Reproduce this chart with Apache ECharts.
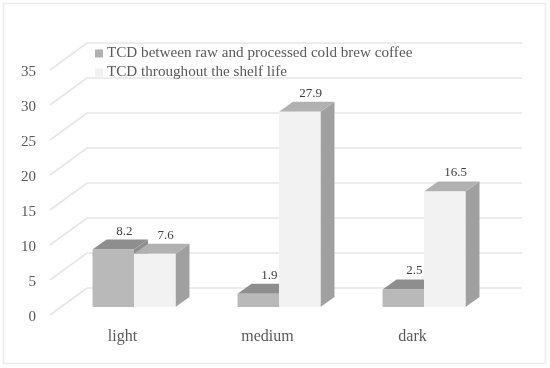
<!DOCTYPE html>
<html><head><meta charset="utf-8">
<style>html,body{margin:0;padding:0;background:#fff}#c{width:550px;height:368px}</style>
<script src="https://cdn.jsdelivr.net/npm/echarts@6/dist/echarts.min.js"></script>
</head><body><div id="c"></div>
<script>
const categories = ['light', 'medium', 'dark'];
const rawVsProcessed = [8.2, 1.9, 2.5];
const shelfLife = [7.6, 27.9, 16.5];
const yTicks = [0, 5, 10, 15, 20, 25, 30, 35];
const seriesNames = ['TCD between raw and processed cold brew coffee', 'TCD throughout the shelf life'];

const FONT = '"Liberation Serif", serif';
const TEXT = '#595959';
const WALL = {dx: 37, dy: -27};
const BAR_SHIFT = {dx: 11.5, dy: -8};
const BAR_DEPTH = {dx: 14, dy: -10};
const BAR_FRACTION = 0.286;

function wallLine(params, api) {
  const v = api.value(0), cs = params.coordSys;
  const y = api.coord([0, v])[1];
  const style = {stroke: '#e6e6e6', lineWidth: 1.6, fill: null};
  return {type: 'group', silent: true, children: [
    {type: 'polyline', shape: {points: [
      [cs.x, y],
      [cs.x + WALL.dx, y + WALL.dy],
      [cs.x + cs.width + WALL.dx, y + WALL.dy]
    ]}, style}
  ]};
}

function barRenderer(side, colors) {
  return function (params, api) {
    const idx = api.value(0), val = api.value(1);
    const w = api.size([1, 0])[0] * BAR_FRACTION;
    const top = api.coord([idx, val]), base = api.coord([idx, 0]);
    const xc = top[0] + BAR_SHIFT.dx;
    const x0 = side < 0 ? xc - w : xc, x1 = x0 + w;
    const yt = top[1] + BAR_SHIFT.dy, yb = base[1] + BAR_SHIFT.dy;
    const d = BAR_DEPTH;
    return {type: 'group', children: [
      {type: 'polygon', shape: {points: [[x1, yt], [x1 + d.dx, yt + d.dy], [x1 + d.dx, yb + d.dy], [x1, yb]]}, style: {fill: colors.side}},
      {type: 'polygon', shape: {points: [[x0, yt], [x0 + d.dx, yt + d.dy], [x1 + d.dx, yt + d.dy], [x1, yt]]}, style: {fill: colors.top}},
      {type: 'rect', shape: {x: x0, y: yt, width: w, height: yb - yt}, style: {fill: colors.front}},
      {type: 'text', x: (x0 + x1) / 2 + 11, y: yt - 18.5, style: {
        text: val.toFixed(1), font: '13px ' + FONT, fill: '#404040', align: 'center', verticalAlign: 'middle'}}
    ]};
  };
}

const chart = echarts.init(document.getElementById('c'), null, {renderer: 'canvas'});
chart.setOption({
  animation: false,
  backgroundColor: '#fff',
  graphic: [{type: 'rect', shape: {x: 3.5, y: 3.5, width: 542, height: 360}, style: {fill: 'none', stroke: '#ececec', lineWidth: 1.5}, silent: true, z: -1}],
  grid: {left: 50, right: 65, top: 70, bottom: 53},
  legend: {
    orient: 'vertical', left: 90, top: 41, itemWidth: 8, itemHeight: 8, itemGap: 4, icon: 'rect',
    data: seriesNames, selectedMode: false,
    textStyle: {fontFamily: FONT, fontSize: 15.15, color: TEXT, padding: [0, 0, 0, -1]}
  },
  xAxis: {type: 'category', data: categories, axisLine: {show: false}, axisTick: {show: false}, splitLine: {show: false},
    axisLabel: {fontFamily: FONT, fontSize: 16, color: TEXT, margin: 14}},
  yAxis: {type: 'value', min: 0, max: 35, interval: 5, axisLine: {show: false}, axisTick: {show: false}, splitLine: {show: false},
    axisLabel: {margin: 14, formatter: '{t|{value}}', rich: {t: {fontFamily: FONT, fontSize: 15, color: TEXT, padding: [4, 0, 0, 0]}}}},
  series: [
    {type: 'custom', name: 'wall', coordinateSystem: 'cartesian2d', data: yTicks.map(v => [v]), encode: {y: 0}, renderItem: wallLine, z: 1, silent: true},
    {type: 'custom', name: seriesNames[0], data: rawVsProcessed.map((v, i) => [i, v]), encode: {x: 0, y: 1},
      itemStyle: {color: '#b0b0b0'},
      renderItem: barRenderer(-1, {front: '#b9b9b9', top: '#8e8e8e', side: '#8e8e8e'}), z: 2},
    {type: 'custom', name: seriesNames[1], data: shelfLife.map((v, i) => [i, v]), encode: {x: 0, y: 1},
      itemStyle: {color: '#f0f0f0'},
      renderItem: barRenderer(1, {front: '#f2f2f2', top: '#b1b1b1', side: '#a0a0a0'}), z: 3}
  ]
});
</script></body></html>
